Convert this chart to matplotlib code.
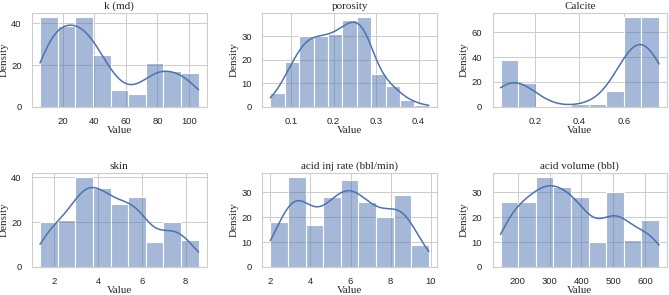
import numpy as np
import seaborn as sns
import matplotlib
matplotlib.use('Agg')
import matplotlib.pyplot as plt

# bin counts (218 samples per column)
titles = ['k (md)', 'porosity', 'Calcite', 'skin', 'acid inj rate (bbl/min)', 'acid volume (bbl)']
k_counts = [43, 39, 43, 25, 8, 6, 21, 17, 16]
porosity_counts = [6, 19, 30, 30, 31, 37, 38, 14, 9, 3, 1]
calcite_counts = [38, 19, 0, 0, 2, 2, 13, 72, 72]
skin_counts = [20, 21, 40, 35, 28, 31, 11, 20, 12]
rate_counts = [18, 36, 17, 28, 35, 26, 20, 29, 9]
volume_counts = [26, 26, 36, 32, 28, 10, 30, 11, 19]
all_counts = [k_counts, porosity_counts, calcite_counts, skin_counts, rate_counts, volume_counts]

# data range (min, max) of each column
ranges = [(5.7, 106.1), (0.051, 0.424), (0.0455, 0.759), (1.343, 8.595), (2.0, 9.9), (145.3, 644.2)]

xticks = [[20, 40, 60, 80, 100], [0.1, 0.2, 0.3, 0.4], [0.2, 0.4, 0.6],
          [2, 4, 6, 8], [2, 4, 6, 8, 10], [200, 300, 400, 500, 600]]
yticks = [[0, 20, 40], [0, 10, 20, 30], [0, 20, 40, 60],
          [0, 20, 40], [0, 10, 20, 30], [0, 10, 20, 30]]

sns.set_theme(style='whitegrid')
plt.rcParams['font.family'] = 'sans-serif'
plt.rcParams['font.sans-serif'] = ['Liberation Sans', 'DejaVu Sans']
serif = 'Liberation Serif'

fig, axes = plt.subplots(2, 3, figsize=(6.69, 2.95), dpi=100)
fig.subplots_adjust(left=0.048, right=0.997, top=0.957, bottom=0.095, wspace=0.32, hspace=0.70)

for ax, title, counts, (lo, hi), xt, yt in zip(axes.flat, titles, all_counts, ranges, xticks, yticks):
    edges = np.linspace(lo, hi, len(counts) + 1)
    centers = (edges[:-1] + edges[1:]) / 2
    vals = np.repeat(centers, counts)
    sns.histplot(x=vals, bins=edges, kde=True, ax=ax, color='#4c72b0', alpha=0.5,
                 edgecolor='white', linewidth=0.8,
                 kde_kws={'cut': 5, 'clip': (lo, hi)},
                 line_kws={'linewidth': 1.1})
    ax.set_xticks(xt)
    ax.set_yticks(yt)
    ax.tick_params(labelsize=6.8, pad=1.5)
    ax.set_title(title, fontfamily=serif, fontsize=8, pad=3)
    ax.set_xlabel('Value', fontfamily=serif, fontsize=8, labelpad=0)
    ax.set_ylabel('Density', fontfamily=serif, fontsize=8, labelpad=2)
    for sp in ax.spines.values():
        sp.set_linewidth(0.8)
    ax.grid(linewidth=0.7)

fig.savefig('out.png', dpi=100)
